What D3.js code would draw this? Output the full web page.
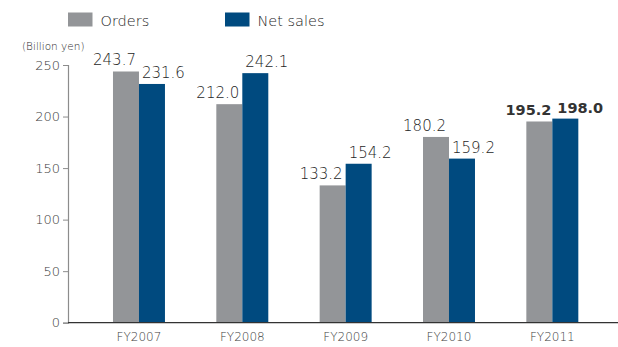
<!DOCTYPE html>
<html>
<head>
<meta charset="utf-8">
<script src="https://cdn.jsdelivr.net/npm/d3@7"></script>
<style>
  html, body { margin: 0; padding: 0; background: #fff; }
  svg { display: block; }
  text { font-family: "DejaVu Sans", sans-serif; }
</style>
</head>
<body>
<svg id="chart" width="618" height="347"></svg>
<script>
const categories = ["FY2007", "FY2008", "FY2009", "FY2010", "FY2011"];
const orders = [243.7, 212.0, 133.2, 180.2, 195.2];
const netSales = [231.6, 242.1, 154.2, 159.2, 198.0];
const seriesNames = ["Orders", "Net sales"];
const yTicks = [0, 50, 100, 150, 200, 250];
const unitLabel = "(Billion yen)";
const boldCategory = "FY2011";

const colors = { "Orders": "#939598", "Net sales": "#004a7f" };
const LIGHT = 200;

const svg = d3.select("#chart");

const y = d3.scaleLinear().domain([0, 250]).range([322.7, 65]);
const x = d3.scaleBand().domain(categories).range([87.3, 604]).paddingInner(0.497).paddingOuter(0.2485);
const xs = d3.scaleBand().domain(seriesNames).range([0, x.bandwidth()]);

const data = categories.map((c, i) => ({ cat: c, values: [
  { key: "Orders", value: orders[i] },
  { key: "Net sales", value: netSales[i] }
]}));

// Y axis
const yAxis = d3.axisLeft(y).tickValues(yTicks).tickSize(5).tickPadding(3).tickFormat(d3.format("d"));
const yg = svg.append("g").attr("transform", "translate(68,0)").call(yAxis);
yg.select(".domain").attr("stroke", "#8c8c8c").attr("stroke-width", 1.2);
yg.selectAll(".tick line").attr("stroke", "#8c8c8c");
yg.selectAll(".tick text").attr("fill", "#3c3c3c").attr("font-size", "13px")
  .attr("font-family", "DejaVu Sans").attr("font-weight", LIGHT);

svg.append("text").attr("x", 22).attr("y", 50).attr("font-size", "10.5px")
  .attr("font-weight", LIGHT).attr("fill", "#2a2a2a").text(unitLabel);

// Bars
const groups = svg.selectAll("g.grp").data(data).enter().append("g")
  .attr("class", "grp").attr("transform", d => `translate(${x(d.cat)},0)`);
groups.selectAll("rect").data(d => d.values).enter().append("rect")
  .attr("x", d => xs(d.key))
  .attr("width", xs.bandwidth())
  .attr("y", d => y(d.value))
  .attr("height", d => y(0) - y(d.value))
  .attr("fill", d => colors[d.key]);

// Value labels
groups.each(function(g) {
  const sel = d3.select(this);
  const bold = g.cat === boldCategory;
  g.values.forEach(v => {
    const isOrders = v.key === "Orders";
    sel.append("text")
      .attr("x", isOrders ? xs(v.key) + xs.bandwidth() - (bold ? 1 : 3) : xs(v.key) + (bold ? 5 : 3))
      .attr("y", y(v.value) - 6)
      .attr("text-anchor", isOrders ? "end" : "start")
      .attr("font-size", bold ? "14.5px" : "15px")
      .attr("font-weight", bold ? "bold" : LIGHT)
      .attr("fill", bold ? "#333" : "#1e1e1e")
      .text(v.value.toFixed(1));
  });
});

// X axis
const xAxis = d3.axisBottom(x).tickSize(0).tickPadding(10);
const xg = svg.append("g").attr("transform", `translate(0,${y(0)})`).call(xAxis);
xg.select(".domain").remove();
svg.append("line").attr("x1", 68).attr("x2", 618).attr("y1", y(0)).attr("y2", y(0))
  .attr("stroke", "#333").attr("stroke-width", 1.2);
xg.selectAll(".tick text").attr("fill", "#3c3c3c").attr("font-size", "12px")
  .attr("font-family", "DejaVu Sans").attr("font-weight", LIGHT);

// Legend
const legend = svg.append("g");
const legendX = [68, 225];
seriesNames.forEach((s, i) => {
  legend.append("rect").attr("x", legendX[i]).attr("y", 12.5).attr("width", 24.5).attr("height", 14).attr("fill", colors[s]);
  legend.append("text").attr("x", legendX[i] + 32.5).attr("y", 26).attr("font-size", "14.5px")
    .attr("font-weight", LIGHT).attr("fill", "#1e1e1e").text(s);
});
</script>
</body>
</html>
